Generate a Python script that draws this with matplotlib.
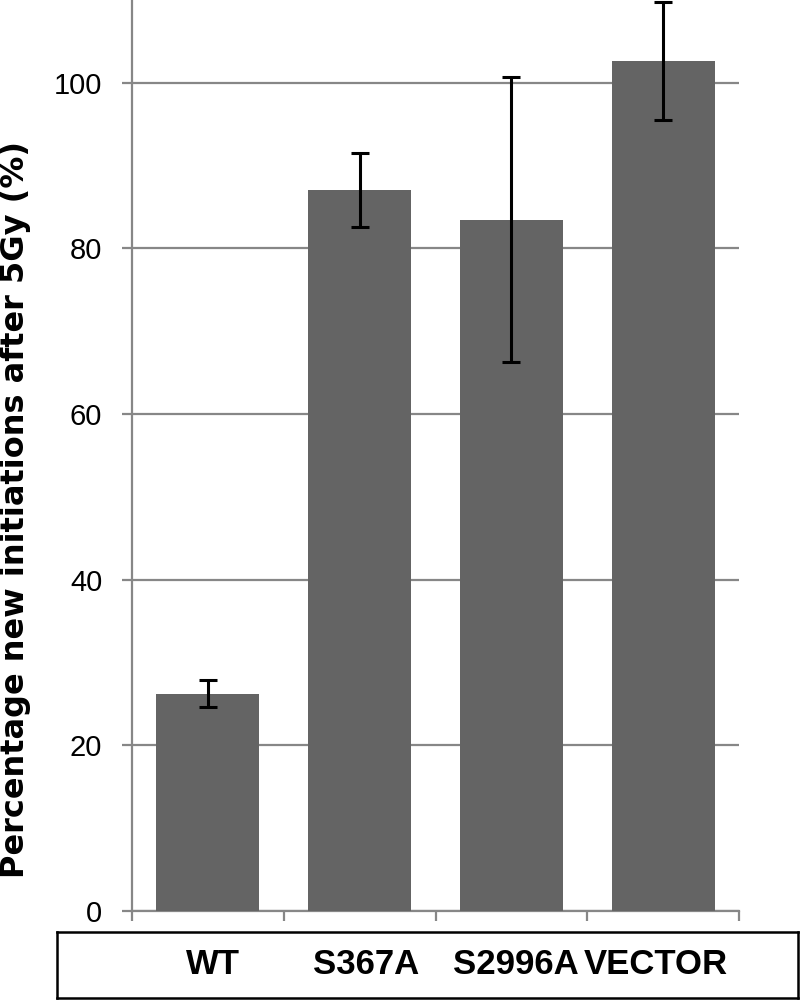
import matplotlib
matplotlib.use("Agg")
import matplotlib.pyplot as plt
import numpy as np

categories = ["WT", "S367A", "S2996A", "VECTOR"]
values = [26.25, 87.05, 83.45, 102.65]
errors = [1.65, 4.45, 17.2, 7.15]
yticks = [0, 20, 40, 60, 80, 100]

plt.rcParams['font.family'] = ['Liberation Sans', 'DejaVu Sans']

W, H = 800, 1000
fig = plt.figure(figsize=(8, 10), dpi=100)

ax_l, ax_r, ax_b, ax_t = 132, 739, 911, 0
ax = fig.add_axes([ax_l / W, 1 - ax_b / H, (ax_r - ax_l) / W, (ax_b - ax_t) / H])

x = np.arange(len(categories))
gray = "#878787"
ax.bar(x, values, width=0.68, color="#646464", zorder=3)
ax.errorbar(x, values, yerr=errors, fmt="none", ecolor="black",
            elinewidth=2.2, capsize=6.5, capthick=2.2, zorder=4)

ax.set_xlim(-0.5, len(categories) - 0.5)
ax.set_ylim(0, 110)
ax.set_yticks(yticks)
ax.set_yticklabels([str(t) for t in yticks])
ax.yaxis.grid(True, color=gray, linewidth=1.6, zorder=0)
ax.set_axisbelow(True)

for s in ["top", "right"]:
    ax.spines[s].set_visible(False)
for s in ["left", "bottom"]:
    ax.spines[s].set_color(gray)
    ax.spines[s].set_linewidth(1.6)

ax.tick_params(axis="y", direction="out", length=7.5, width=1.6, color=gray,
               labelsize=21, pad=14, labelcolor="black")
ax.set_xticks([])
ax.set_xticks(np.arange(-0.5, len(categories)), minor=True)
ax.tick_params(axis="x", which="minor", direction="out", length=7, width=1.6,
               color=gray, labelbottom=False)

fig.text(16 / W, 1 - 510 / H, "Percentage new initiations after 5Gy (%)",
         rotation=90, ha="center", va="center", fontsize=23, fontweight="bold",
         family=["DejaVu Sans"])

# label box
bx_l, bx_r, bx_t, bx_b = 57, 798, 932, 998
lab = fig.add_axes([bx_l / W, 1 - bx_b / H, (bx_r - bx_l) / W, (bx_b - bx_t) / H])
lab.set_xlim(bx_l, bx_r)
lab.set_ylim(0, 1)
lab.set_xticks([])
lab.set_yticks([])
for s in lab.spines.values():
    s.set_color("black")
    s.set_linewidth(1.8)
label_centers_px = [213, 366, 516, 656]
for c, px in zip(categories, label_centers_px):
    lab.text(px, 0.5, c, ha="center", va="center", fontsize=25, fontweight="bold")

fig.savefig("out.png", dpi=100)
